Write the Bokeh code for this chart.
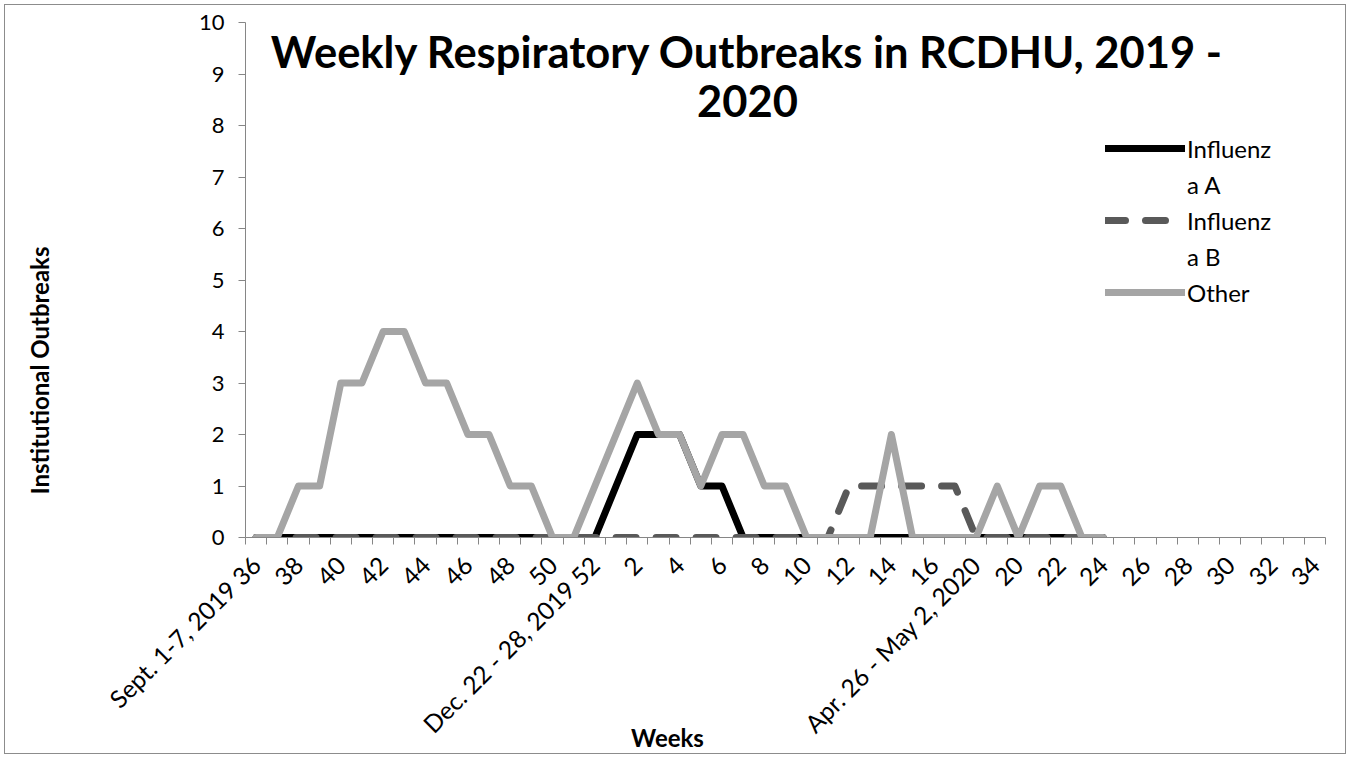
import math
from bokeh.plotting import figure
from bokeh.models import Range1d, FixedTicker, Label, Legend, LegendItem
from bokeh.core.properties import value
from bokeh.embed import file_html
from bokeh.resources import INLINE

# ---- data ----
weeks = ["36", "37", "38", "39", "40", "41", "42", "43", "44", "45", "46", "47",
         "48", "49", "50", "51", "52", "1", "2", "3", "4", "5", "6", "7", "8", "9",
         "10", "11", "12", "13", "14", "15", "16", "17", "18", "19", "20", "21",
         "22", "23", "24", "25", "26", "27", "28", "29", "30", "31", "32", "33", "34"]
date_labels = {"36": "Sept. 1-7, 2019 36",
               "52": "Dec. 22 - 28, 2019 52",
               "18": "Apr. 26 - May 2, 2020"}
influenza_a = [0, 0, 0, 0, 0, 0, 0, 0, 0, 0, 0, 0, 0, 0, 0, 0, 0, 1, 2, 2, 2, 1, 1,
               0, 0, 0, 0, 0, 0, 0, 0, 0, 0, 0, 0, 0, 0, 0, 0, 0, 0]
influenza_b = [0, 0, 0, 0, 0, 0, 0, 0, 0, 0, 0, 0, 0, 0, 0, 0, 0, 0, 0, 0, 0, 0, 0,
               0, 0, 0, 0, 0, 1, 1, 1, 1, 1, 1, 0, 0, 0, 0, 0, 0, 0]
other = [0, 0, 1, 1, 3, 3, 4, 4, 3, 3, 2, 2, 1, 1, 0, 0, 1, 2, 3, 2, 2, 1, 2, 2, 1, 1,
         0, 0, 0, 0, 2, 0, 0, 0, 0, 1, 0, 1, 1, 0, 0]
y_ticks = [0, 1, 2, 3, 4, 5, 6, 7, 8, 9, 10]

FONT = "Lato"
AXIS_GRAY = "#868686"

n = len(weeks)
xs = list(range(len(other)))

p = figure(width=1342, height=750, output_backend="svg", toolbar_location=None,
           x_range=Range1d(-0.5, n - 0.5), y_range=Range1d(0, 10),
           min_border_left=240, min_border_right=22, min_border_top=17,
           min_border_bottom=218)
p.styles = {"border": "1px solid #8c8c8c", "margin-left": "4px", "margin-top": "4px"}
p.background_fill_color = "white"
p.border_fill_color = "white"
p.outline_line_color = None
p.xgrid.visible = False
p.ygrid.visible = False

# x axis: labels every second week, tick marks between categories
label_pos = list(range(0, n, 2))
p.xaxis.ticker = FixedTicker(ticks=label_pos, minor_ticks=[i - 0.5 for i in range(n + 1)])
p.xaxis.major_label_overrides = {i: date_labels.get(weeks[i], weeks[i]) for i in label_pos}
p.xaxis.major_tick_line_color = None
p.xaxis.minor_tick_line_color = AXIS_GRAY
p.xaxis.minor_tick_out = 7
p.xaxis.minor_tick_in = 0
p.xaxis.axis_line_color = AXIS_GRAY
p.xaxis.major_label_orientation = math.pi / 4
p.xaxis.major_label_standoff = 16
p.xaxis.major_label_text_font = FONT
p.xaxis.major_label_text_font_size = "24.5px"
p.xaxis.major_label_text_color = "black"

p.yaxis.ticker = FixedTicker(ticks=y_ticks)
p.yaxis.minor_tick_line_color = None
p.yaxis.major_tick_line_color = AXIS_GRAY
p.yaxis.major_tick_out = 7
p.yaxis.major_tick_in = 0
p.yaxis.axis_line_color = AXIS_GRAY
p.yaxis.major_label_standoff = 14
p.yaxis.major_label_text_font = FONT
p.yaxis.major_label_text_font_size = "22px"
p.yaxis.major_label_text_color = "black"

# series
ra = p.line(xs, influenza_a, line_color="#000000", line_width=7,
            line_join="round", line_cap="round")
rb = p.line(xs, influenza_b, line_color="#595959", line_width=7,
            line_join="round", line_cap="round", line_dash="20 20")
ro = p.line(xs, other, line_color="#a5a5a5", line_width=7,
            line_join="round", line_cap="round")

legend = Legend(items=[
    LegendItem(label=value("Influenz"), renderers=[ra]),
    LegendItem(label=value("a A"), renderers=[]),
    LegendItem(label=value("Influenz"), renderers=[rb]),
    LegendItem(label=value("a B"), renderers=[]),
    LegendItem(label=value("Other"), renderers=[ro]),
], location=(860, 230))
legend.glyph_width = 80
legend.glyph_height = 30
legend.label_height = 30
legend.spacing = 6
legend.padding = 0
legend.margin = 0
legend.label_standoff = 2
legend.label_text_font = FONT
legend.label_text_font_size = "24px"
legend.label_text_color = "black"
legend.border_line_color = None
legend.background_fill_alpha = 0
p.add_layout(legend, "center")

# chart title (inside the plot area)
p.add_layout(Label(x=502, y=487, x_units="screen", y_units="screen",
                   text="Weekly Respiratory Outbreaks in RCDHU, 2019 -",
                   text_font=FONT, text_font_size="43.5px", text_font_style="bold",
                   text_color="black", text_align="center", text_baseline="alphabetic"))
p.add_layout(Label(x=502, y=437, x_units="screen", y_units="screen",
                   text="2020",
                   text_font=FONT, text_font_size="43.5px", text_font_style="bold",
                   text_color="black", text_align="center", text_baseline="alphabetic"))

# axis titles, placed in the (roomy) left side panel so they are not clipped
p.add_layout(Label(x=-127, y=167, x_units="screen", y_units="screen",
                   text="Institutional Outbreaks", angle=math.pi / 2,
                   text_font=FONT, text_font_size="24px", text_font_style="bold",
                   text_color="black", text_align="center",
                   text_baseline="middle"), "left")
p.add_layout(Label(x=574, y=-200, x_units="screen", y_units="screen",
                   text="Weeks", text_font=FONT, text_font_size="24px",
                   text_font_style="bold", text_color="black",
                   text_align="center", text_baseline="middle"), "left")

open("out.html", "w").write(file_html(p, INLINE))
